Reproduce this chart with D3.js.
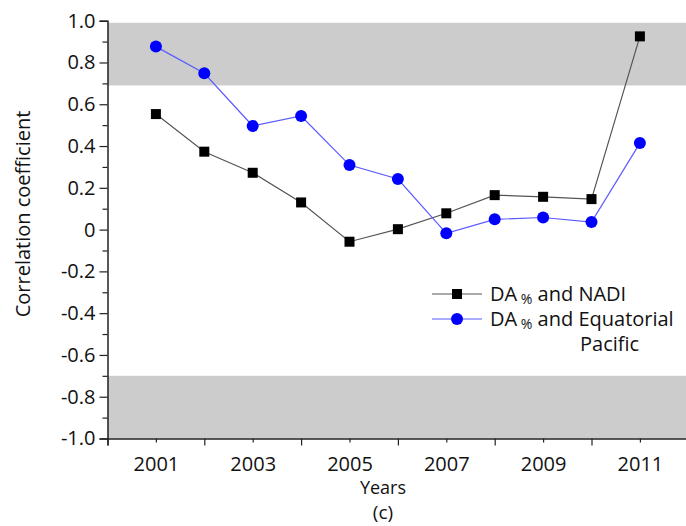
<!DOCTYPE html>
<html>
<head>
<meta charset="utf-8">
<script src="https://cdn.jsdelivr.net/npm/d3@7"></script>
<style>
  body { margin: 0; background: #fff; }
  text { font-family: "Open Sans", sans-serif; fill: #111; }
</style>
</head>
<body>
<div id="chart"></div>
<script>
// data
var years = [2001, 2002, 2003, 2004, 2005, 2006, 2007, 2008, 2009, 2010, 2011];
var nadi = [0.553, 0.373, 0.272, 0.130, -0.058, 0.002, 0.078, 0.165, 0.157, 0.146, 0.925];
var pacific = [0.876, 0.748, 0.496, 0.544, 0.309, 0.242, -0.018, 0.049, 0.058, 0.036, 0.414];
var yTicks = [1.0, 0.8, 0.6, 0.4, 0.2, 0, -0.2, -0.4, -0.6, -0.8, -1.0];
var xLabels = [2001, 2003, 2005, 2007, 2009, 2011];
var bands = [[0.69, 0.99], [-1.0, -0.7]];

var width = 686, height = 526;
var plotLeft = 107.5, plotTop = 20.7, plotBottom = 438.5, plotRight = 700;
var fontSize = '20px';

var svg = d3.select('#chart').append('svg')
   .attr('width', width)
   .attr('height', height);

var x = d3.scaleLinear().domain([2000, 2012]).range([plotLeft, plotLeft + 12 * 48.4]);
var y = d3.scaleLinear().domain([-1, 1]).range([plotBottom, plotTop]);

// significance bands
svg.selectAll('rect.band')
   .data(bands)
   .enter()
   .append('rect')
   .attr('class', 'band')
   .attr('x', plotLeft)
   .attr('width', plotRight - plotLeft)
   .attr('y', function (d) { return y(d[1]); })
   .attr('height', function (d) { return y(d[0]) - y(d[1]); })
   .attr('fill', '#cccccc');

// y axis, major ticks every 0.2, minor every 0.1
var yAxis = d3.axisLeft(y)
   .tickValues(yTicks)
   .tickSize(8)
   .tickPadding(4)
   .tickFormat(function (d) { return d === 0 ? '0' : d.toFixed(1); });
var gy = svg.append('g').attr('transform', 'translate(' + plotLeft + ',0)').call(yAxis);
gy.select('.domain').attr('stroke', '#222').attr('stroke-width', 1.5);
gy.selectAll('.tick line').attr('stroke', '#222').attr('stroke-width', 1.2);
gy.selectAll('.tick text').style('font-size', fontSize).attr('fill', '#111');

var gyMinor = svg.append('g').attr('transform', 'translate(' + plotLeft + ',0)')
   .call(d3.axisLeft(y).tickValues(d3.range(-9, 10, 2).map(function (v) { return v / 10; }))
      .tickSize(5).tickFormat(''));
gyMinor.select('.domain').remove();
gyMinor.selectAll('.tick line').attr('stroke', '#222').attr('stroke-width', 1.2);

// x axis: long ticks on even years, short ticks and labels on odd years
var gx = svg.append('g').attr('transform', 'translate(0,' + plotBottom + ')')
   .call(d3.axisBottom(x).tickValues(d3.range(2000, 2013, 2)).tickSize(7).tickFormat(''));
gx.select('.domain').attr('stroke', '#222').attr('stroke-width', 1.5);
gx.selectAll('.tick line').attr('stroke', '#222').attr('stroke-width', 1.2);

var gxMinor = svg.append('g').attr('transform', 'translate(0,' + plotBottom + ')')
   .call(d3.axisBottom(x).tickValues(xLabels).tickSize(4).tickPadding(14).tickFormat(d3.format('d')));
gxMinor.select('.domain').remove();
gxMinor.selectAll('.tick line').attr('stroke', '#222').attr('stroke-width', 1.2);
gxMinor.selectAll('.tick text').style('font-size', fontSize).attr('fill', '#111');

// axis titles
svg.append('text')
   .attr('transform', 'translate(30,214) rotate(-90)')
   .attr('text-anchor', 'middle')
   .style('font-size', fontSize)
   .text('Correlation coefficient');

svg.append('text')
   .attr('x', 383).attr('y', 494)
   .attr('text-anchor', 'middle')
   .style('font-size', '18px')
   .text('Years');

svg.append('text')
   .attr('x', 383).attr('y', 519)
   .attr('text-anchor', 'middle')
   .style('font-size', '19px')
   .text('(c)');

// series
var line = d3.line()
   .x(function (d, i) { return x(years[i]); })
   .y(function (d) { return y(d); });

svg.append('path').datum(nadi)
   .attr('d', line)
   .attr('fill', 'none')
   .attr('stroke', '#555')
   .attr('stroke-width', 1.2);

svg.append('path').datum(pacific)
   .attr('d', line)
   .attr('fill', 'none')
   .attr('stroke', '#5b5bff')
   .attr('stroke-width', 1.2);

svg.selectAll('rect.nadi')
   .data(nadi)
   .enter()
   .append('rect')
   .attr('class', 'nadi')
   .attr('x', function (d, i) { return x(years[i]) - 5; })
   .attr('y', function (d) { return y(d) - 5; })
   .attr('width', 10).attr('height', 10)
   .attr('fill', '#000');

svg.selectAll('circle.pac')
   .data(pacific)
   .enter()
   .append('circle')
   .attr('class', 'pac')
   .attr('cx', function (d, i) { return x(years[i]); })
   .attr('cy', function (d) { return y(d); })
   .attr('r', 6)
   .attr('fill', '#0000ff');

// legend
var legend = svg.append('g');
legend.append('line').attr('x1', 432).attr('x2', 482).attr('y1', 294).attr('y2', 294)
   .attr('stroke', '#555').attr('stroke-width', 1.2);
legend.append('rect').attr('x', 452).attr('y', 289).attr('width', 10).attr('height', 10).attr('fill', '#000');
legend.append('line').attr('x1', 432).attr('x2', 482).attr('y1', 319).attr('y2', 319)
   .attr('stroke', '#5b5bff').attr('stroke-width', 1.2);
legend.append('circle').attr('cx', 457).attr('cy', 319).attr('r', 6).attr('fill', '#0000ff');

var t1 = legend.append('text').attr('x', 490).attr('y', 301).style('font-size', fontSize);
t1.append('tspan').text('DA');
t1.append('tspan').attr('dy', 3).style('font-size', '14px').text(' %');
t1.append('tspan').attr('dy', -3).text(' and NADI');

var t2 = legend.append('text').attr('x', 490).attr('y', 326).style('font-size', fontSize);
t2.append('tspan').text('DA');
t2.append('tspan').attr('dy', 3).style('font-size', '14px').text(' %');
t2.append('tspan').attr('dy', -3).text(' and Equatorial');

legend.append('text').attr('x', 580).attr('y', 351).style('font-size', fontSize).text('Pacific');
</script>
</body>
</html>
